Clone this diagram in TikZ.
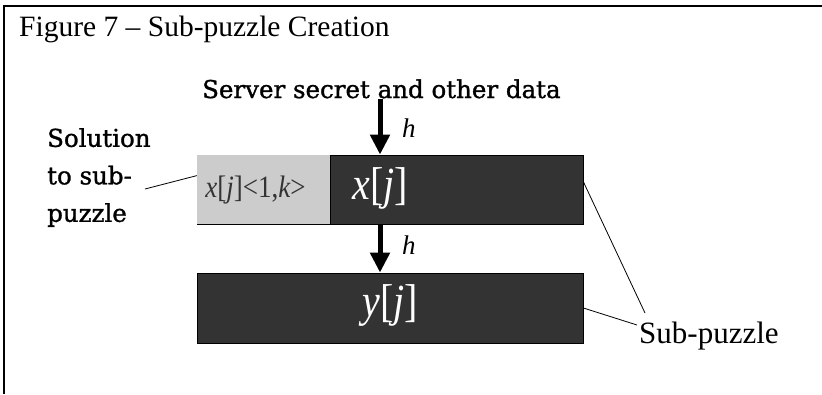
\documentclass[tikz,border=0pt]{standalone}
\usepackage{fontspec}
\usetikzlibrary{arrows.meta,calc}
\newfontfamily\tnr{Liberation Serif}
\newfontfamily\dvs[FakeBold=1.2]{DejaVu Serif}
\definecolor{boxdark}{HTML}{333333}
\definecolor{boxlight}{HTML}{CCCCCC}
\tikzset{
  frameline/.style={line width=1.4pt, black},
  darkbox/.style={draw=black, line width=0.8pt, fill=boxdark, inner sep=0pt},
  lightbox/.style={fill=boxlight, inner sep=0pt},
  smalltext/.style={text=boxdark, inner sep=0pt,
    font=\tnr\fontsize{27}{30}\selectfont},
  boxtext/.style={text=white, inner sep=0pt,
    font=\tnr\fontsize{40}{44}\selectfont},
  hasharrow/.style={line width=5pt, -{Triangle[width=19pt,length=20pt]}},
  hashlabel/.style={anchor=base west, inner sep=0pt,
    font=\tnr\itshape\fontsize{27}{30}\selectfont},
  leader/.style={line width=0.8pt, black},
  caption/.style={anchor=base west, inner sep=0pt,
    font=\tnr\fontsize{29.5}{34}\selectfont},
  note/.style={inner sep=0pt, font=\dvs\fontsize{24.5}{37.5}\selectfont}
}
\begin{document}
\begin{tikzpicture}[x=1pt,y=-1pt]
  \useasboundingbox (0,0) rectangle (822,394);
  % open frame: top and left edges
  \draw[frameline] (822,6) -- (4,6) -- (4,394);

  % title
  \node[caption] (title) at (19,36) {Figure 7 – Sub-puzzle Creation};

  % input data
  \node[note, anchor=base west] (src) at (202,98) {Server secret and other data};

  % sub-puzzle x[j] with its solution part
  \node[lightbox, minimum width=133pt, minimum height=69pt] (sol) at (263.5,189.5) {};
  \draw[line width=0.8pt] (sol.south west) -- (sol.south east);
  \node[smalltext] (solpart) at (255.5,190)
    {\scalebox{1}[1.15]{{\itshape x}[{\itshape j}]<1,{\itshape k}>}};
  \node[darkbox, minimum width=253pt, minimum height=69pt] (xbox) at (456.5,189.5) {};
  \node[boxtext] (xlab) at (380,188)
    {\scalebox{1}[1.15]{{\itshape x}[{\itshape j}]}};

  % sub-puzzle y[j]
  \node[darkbox, minimum width=386pt, minimum height=70pt] (ybox) at (390,308) {};
  \node[boxtext] (ylab) at (390,306)
    {\scalebox{1}[1.15]{{\itshape y}[{\itshape j}]}};

  % hashing arrows
  \draw[hasharrow] (src.south -| xlab) -- (xlab |- xbox.north);
  \node[hashlabel] (h1) at (402,137) {h};
  \draw[hasharrow] (xlab |- xbox.south) -- (xlab |- ybox.north);
  \node[hashlabel] (h2) at (402,254) {h};

  % left annotation
  \node[note, anchor=north west, align=left] (solnote) at (47,128)
    {Solution\\to sub-\\puzzle};
  \coordinate (solend) at (145,189);
  \draw[leader] (solend) -- ($(sol.north west)!0.3!(sol.south west)$);

  % right annotation
  \node[caption, font=\tnr\fontsize{31}{34}\selectfont] (subnote) at (639,343) {Sub-puzzle};
  \coordinate (subtop) at (645,313);
  \coordinate (subleft) at (637,325);
  \draw[leader] ($(xbox.north east)!0.39!(xbox.south east)$) -- (subtop);
  \draw[leader] (ybox.east) -- (subleft);
\end{tikzpicture}
\end{document}
